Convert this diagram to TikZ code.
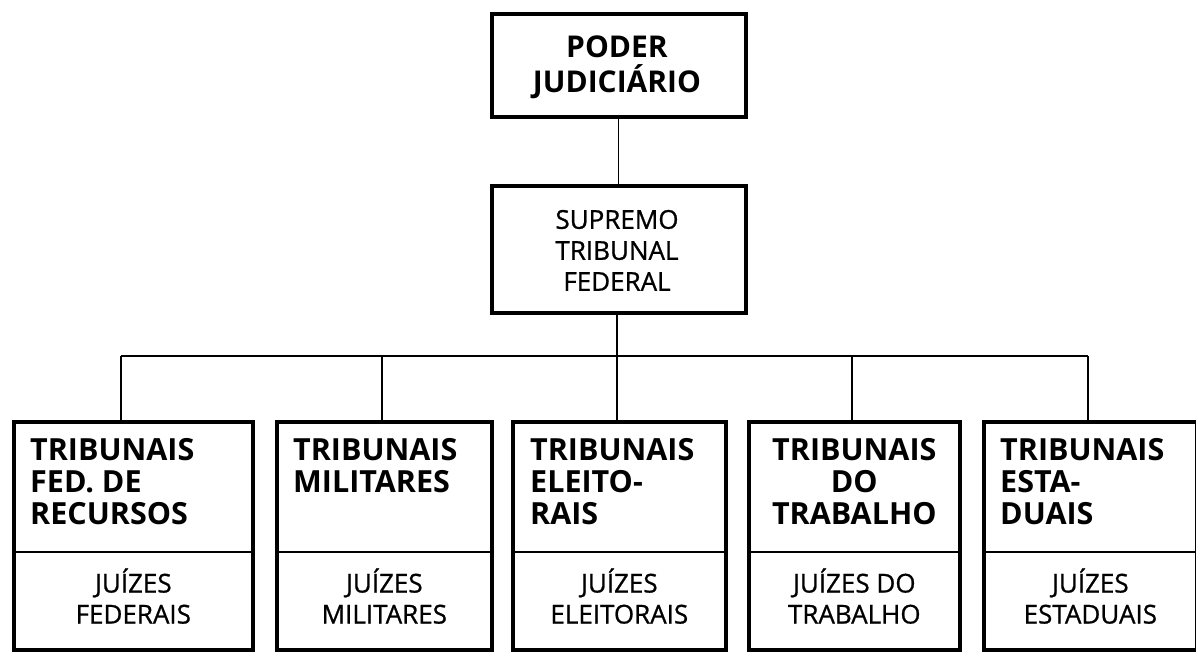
\documentclass[tikz,border=0pt]{standalone}
\usepackage{fontspec}
\setmainfont{Open Sans}
\newfontfamily\medfont{Open Sans}[FakeBold=0.8]
\begin{document}
\begin{tikzpicture}[x=1pt,y=-1pt,
  box/.style={draw, line width=3.6pt, rectangle, inner sep=0pt, anchor=north west},
  conn/.style={line width=1.3pt},
  divider/.style={line width=2pt},
  bigtxt/.style={font=\fontsize{30.5}{32}\selectfont\bfseries, inner sep=0pt, align=left, anchor=north west},
  toptxt/.style={font=\fontsize{30}{35}\selectfont\bfseries, inner sep=0pt, align=center, anchor=south},
  smalltxt/.style={font=\fontsize{26}{31}\selectfont\medfont, inner sep=0pt, align=center, anchor=south}
]
\useasboundingbox (0,0) rectangle (1196,652);

% top boxes
\node[box, minimum width=254pt, minimum height=103pt] (poder) at (490,12) {};
\node[box, minimum width=254pt, minimum height=127pt] (stf) at (490,184) {};
\node[toptxt] (tpoder) at (617,99) {PODER\\JUDICIÁRIO};
\node[smalltxt] (tstf) at (617,291) {SUPREMO\\TRIBUNAL\\FEDERAL};

% bottom boxes
\node[box, minimum width=239pt, minimum height=228pt] (b1) at (12,420) {};
\node[box, minimum width=215pt, minimum height=228pt] (b2) at (275,420) {};
\node[box, minimum width=213pt, minimum height=228pt] (b3) at (511,420) {};
\node[box, minimum width=211pt, minimum height=228pt] (b4) at (747,420) {};
\node[box, minimum width=213pt, minimum height=228pt] (b5) at (982,420) {};

% dividers
\foreach \b in {b1,b2,b3,b4,b5}{
  \draw[divider] (\b.west |- 0,552) -- (\b.east |- 0,552);
}

% upper texts
\node[bigtxt] (h1) at (30,438) {TRIBUNAIS\\FED. DE\\RECURSOS};
\node[bigtxt] (h2) at (293,438) {TRIBUNAIS\\MILITARES};
\node[bigtxt] (h3) at (530,438) {TRIBUNAIS\\ELEITO-\\RAIS};
\node[bigtxt, align=center, anchor=north] (h4) at (b4.north |- 0,438) {TRIBUNAIS\\DO\\TRABALHO};
\node[bigtxt] (h5) at (1000,438) {TRIBUNAIS\\ESTA-\\DUAIS};

% lower texts
\node[smalltxt] (l1) at (b1.center |- 0,624) {JUÍZES\\FEDERAIS};
\node[smalltxt] (l2) at (b2.center |- 0,624) {JUÍZES\\MILITARES};
\node[smalltxt] (l3) at (b3.center |- 0,624) {JUÍZES\\ELEITORAIS};
\node[smalltxt] (l4) at (b4.center |- 0,624) {JUÍZES DO\\TRABALHO};
\node[smalltxt] (l5) at (b5.center |- 0,624) {JUÍZES\\ESTADUAIS};

% connectors
\coordinate (j1) at (121,356);
\coordinate (j2) at (382,356);
\coordinate (j3) at (617,356);
\coordinate (j4) at (852,356);
\coordinate (j5) at (1088,356);
\draw[conn] (poder.south) -- (stf.north);
\draw[conn] (j3 |- stf.south) -- (j3);
\draw[conn] (j1) -- (j5);
\draw[conn] (j1) -- (j1 |- b1.north);
\draw[conn] (j2) -- (j2 |- b2.north);
\draw[conn] (j3) -- (j3 |- b3.north);
\draw[conn] (j4) -- (j4 |- b4.north);
\draw[conn] (j5) -- (j5 |- b5.north);
\end{tikzpicture}
\end{document}
